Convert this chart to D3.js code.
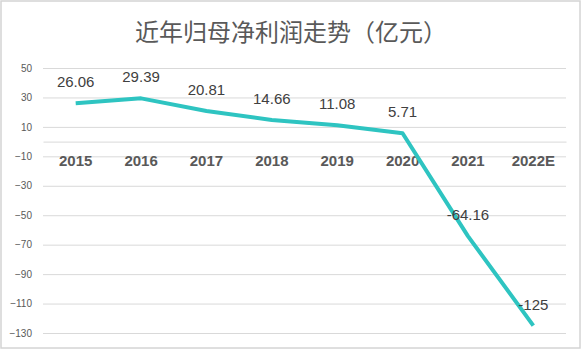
<!DOCTYPE html>
<html>
<head>
<meta charset="utf-8">
<script src="https://cdn.jsdelivr.net/npm/d3@7"></script>
<style>
  body { margin: 0; background: #fff; }
  svg { display: block; }
</style>
</head>
<body>
<svg width="584" height="351"></svg>
<script>
  // data
  const years = ['2015', '2016', '2017', '2018', '2019', '2020', '2021', '2022E'];
  const profit = [26.06, 29.39, 20.81, 14.66, 11.08, 5.71, -64.16, -125];
  const yTicks = [50, 30, 10, -10, -30, -50, -70, -90, -110, -130];

  const svg = d3.select('svg');

  // outer frame
  svg.append('rect')
    .attr('x', 1).attr('y', 1)
    .attr('width', 579).attr('height', 347)
    .attr('fill', '#fff')
    .attr('stroke', '#d4d4d4')
    .attr('stroke-width', 1.5);

  svg.append('text')
    .attr('x', 291).attr('y', 41)
    .attr('text-anchor', 'middle')
    .attr('font-family', '"Noto Sans CJK SC", sans-serif')
    .attr('font-size', 24)
    .attr('fill', '#595959')
    .text('近年归母净利润走势（亿元）');

  const xScale = d3.scaleBand()
    .range([43, 566])
    .domain(years);

  const yScale = d3.scaleLinear()
    .range([333, 68])
    .domain([-130, 50]);

  // gridlines + y labels
  const yAxis = svg.append('g')
    .attr('transform', 'translate(43,0)')
    .call(d3.axisLeft(yScale).tickValues(yTicks).tickSize(-523).tickPadding(11));
  yAxis.select('.domain').remove();
  yAxis.selectAll('line').attr('stroke', '#d9d9d9').attr('stroke-width', 1);
  yAxis.selectAll('text')
    .attr('font-family', '"Liberation Sans", Arial, sans-serif')
    .attr('font-size', 10)
    .attr('fill', '#595959');

  // zero axis with category labels
  const xAxis = svg.append('g')
    .attr('transform', `translate(0, ${yScale(0)})`)
    .call(d3.axisBottom(xScale).tickSize(0).tickPadding(14));
  xAxis.select('.domain').attr('stroke', '#d9d9d9');
  xAxis.selectAll('text')
    .attr('font-family', '"Liberation Sans", Arial, sans-serif')
    .attr('font-size', 15)
    .attr('font-weight', 'bold')
    .attr('fill', '#595959');

  const cx = d => xScale(d) + xScale.bandwidth() / 2;

  const line = d3.line()
    .x((d, i) => cx(years[i]))
    .y(d => yScale(d));

  svg.append('path')
    .datum(profit)
    .attr('d', line)
    .attr('fill', 'none')
    .attr('stroke', '#2ec4c1')
    .attr('stroke-width', 4)
    .attr('stroke-linejoin', 'round');

  svg.append('g')
    .selectAll('text')
    .data(profit)
    .join('text')
    .attr('x', (d, i) => cx(years[i]))
    .attr('y', d => yScale(d) - 16)
    .attr('text-anchor', 'middle')
    .attr('font-family', '"Liberation Sans", Arial, sans-serif')
    .attr('font-size', 15)
    .attr('fill', '#404040')
    .text(d => d);
</script>
</body>
</html>
